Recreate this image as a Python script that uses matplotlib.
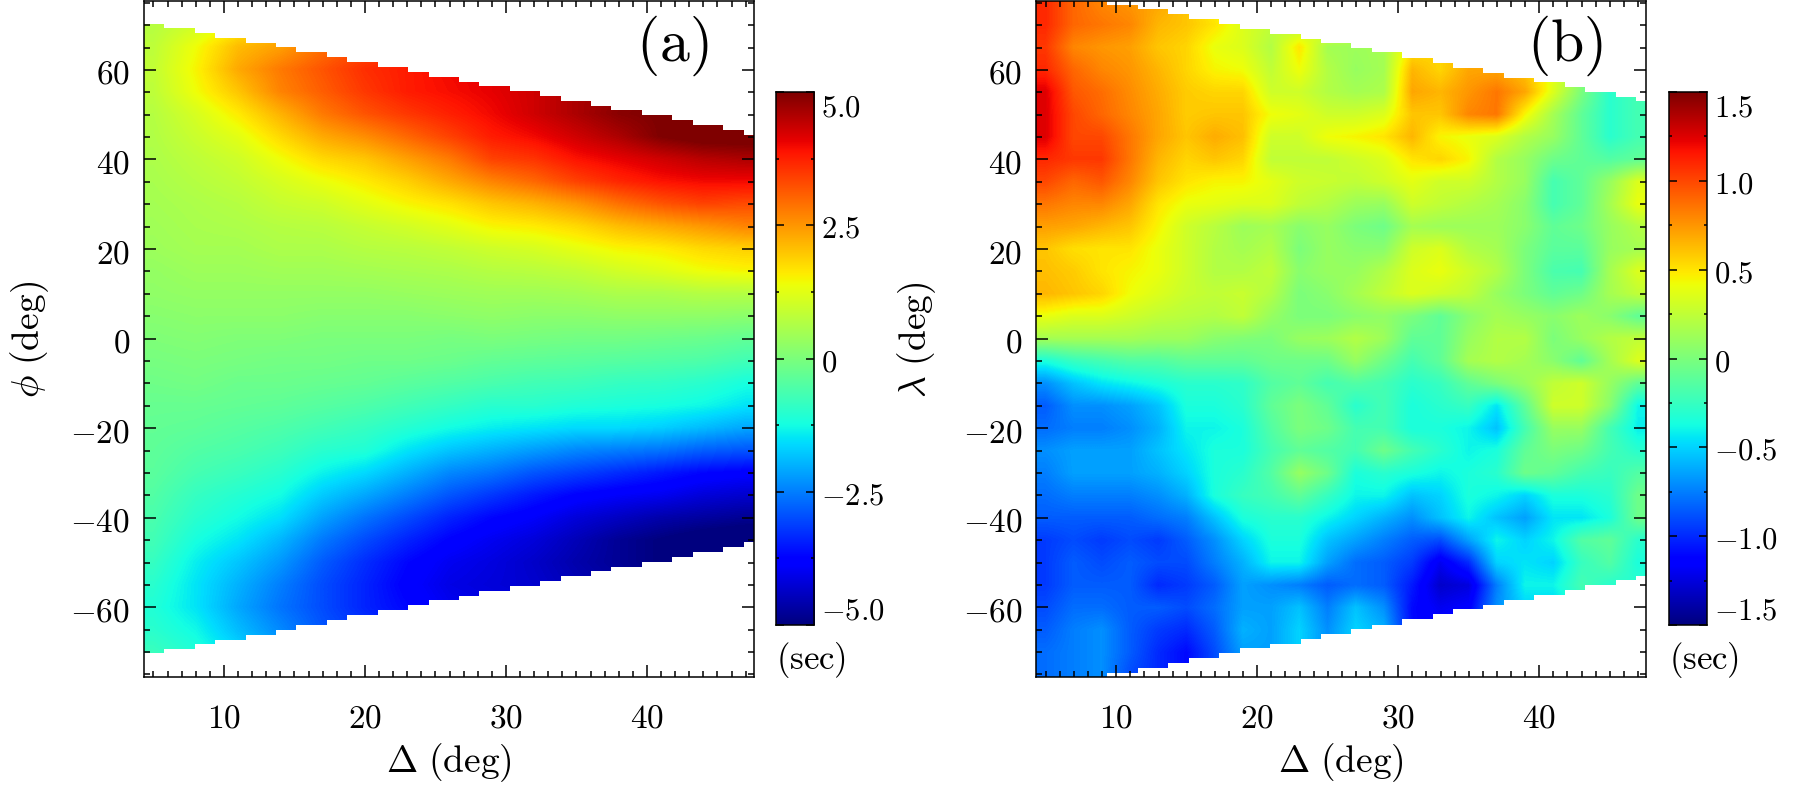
import numpy as np
import matplotlib
matplotlib.use('Agg')
import matplotlib.pyplot as plt
from matplotlib.path import Path
from matplotlib.patches import PathPatch

plt.rcParams['mathtext.fontset'] = 'cm'
W, H = 1800, 803

# panel (a): values per Delta column, latitude rows 70..-70 in steps of 5
a_lats = [70,65,60,55,50,45,40,35,30,25,20,15,10,5,0,-5,-10,-15,-20,-25,-30,-35,-40,-45,-50,-55,-60,-65,-70]
a_deltas = [5,8,11,14,17,20,23,26,29,32,35,38,41,44,47]
a05 = [.7,.8,.85,.8,.7,.65,.6,.55,.5,.45,.4,.3,.25,.15,.05,-.05,-.15,-.25,-.3,-.35,-.4,-.5,-.6,-.7,-.85,-1,-1.1,-1,-.8]
a08 = [1,1.4,1.5,1.4,1.1,.95,.8,.7,.6,.55,.5,.4,.3,.2,.1,0,-.1,-.25,-.35,-.5,-.65,-.85,-1,-1.2,-1.4,-1.5,-1.5,-1.3,-1.1]
a11 = [1.5,2.1,2.3,2,1.6,1.25,1,.85,.7,.6,.5,.4,.3,.2,.05,-.05,-.2,-.3,-.45,-.6,-.8,-1.05,-1.25,-1.5,-1.8,-2,-2.1,-1.9,-1.6]
a14 = [1.9,2.4,2.8,2.7,2.2,1.8,1.4,1.1,.9,.7,.6,.45,.3,.2,.05,-.1,-.2,-.35,-.55,-.75,-1,-1.25,-1.55,-1.95,-2.25,-2.5,-2.6,-2.4,-2.1]
a17 = [2.4,2.9,3.2,3.1,2.8,2.3,1.8,1.35,1,.75,.6,.45,.3,.15,0,-.1,-.25,-.45,-.7,-1,-1.35,-1.75,-2.15,-2.55,-2.85,-3,-3,-2.9,-2.6]
a20 = [3,3.3,3.6,3.5,3.2,2.6,2,1.6,1.25,.9,.7,.5,.3,.15,0,-.15,-.3,-.55,-.85,-1.1,-1.6,-2.1,-2.6,-3,-3.3,-3.4,-3.4,-3.2,-3]
a23 = [3.4,3.6,3.8,3.8,3.5,3,2.4,1.9,1.5,1.05,.75,.55,.35,.15,0,-.15,-.4,-.7,-1.05,-1.5,-2,-2.5,-3,-3.4,-3.7,-3.8,-3.7,-3.5,-3.3]
a26 = [3.6,3.8,4,3.95,3.75,3.4,2.8,2.3,1.7,1.25,.85,.6,.4,.2,-.05,-.2,-.5,-.85,-1.25,-1.8,-2.4,-2.9,-3.4,-3.75,-4,-4.1,-4,-3.8,-3.6]
a29 = [3.8,4,4.1,4.1,4,3.8,3.4,2.7,2,1.5,1,.7,.45,.25,0,-.3,-.6,-1,-1.4,-2,-2.6,-3.2,-3.7,-4,-4.15,-4.2,-4.1,-3.9,-3.7]
a32 = [4,4.2,4.3,4.3,4.3,4,3.55,3,2.2,1.6,1.1,.75,.45,.2,-.05,-.35,-.7,-1,-1.5,-2.2,-2.9,-3.5,-3.9,-4.2,-4.35,-4.3,-4.2,-4,-3.8]
a35 = [4.2,4.4,4.5,4.6,4.6,4.3,3.9,3.4,2.5,1.8,1.3,.85,.5,.2,-.1,-.4,-.75,-1.1,-1.6,-2.4,-3.1,-3.75,-4.2,-4.5,-4.6,-4.5,-4.4,-4.2,-4]
a38 = [4.4,4.6,4.7,4.8,4.9,4.6,4.1,3.7,2.9,2.1,1.5,1.05,.6,.25,-.1,-.45,-.85,-1.15,-1.6,-2.5,-3.3,-3.9,-4.4,-4.8,-4.8,-4.7,-4.6,-4.4,-4.2]
a41 = [4.6,4.8,4.9,5,5,5,4.3,3.9,3.2,2.3,1.6,1.2,.6,.25,-.15,-.5,-.9,-1.2,-1.7,-2.6,-3.5,-4,-4.6,-5,-5,-4.9,-4.8,-4.6,-4.4]
a44 = [4.8,5,5,5.2,5.2,5.2,4.5,4,3.4,2.5,1.8,1.4,.7,.25,-.2,-.55,-1,-1.3,-1.9,-2.8,-3.7,-4.2,-4.7,-5.2,-5.2,-5,-5,-4.8,-4.6]
a47 = [5,5,5.2,5.2,5.2,5.2,4.6,4,3.3,2.7,1.9,1.5,.7,.2,-.3,-.7,-1.2,-1.5,-2.1,-2.9,-3.8,-4.3,-4.8,-5.3,-5.3,-5.2,-5,-5,-4.8]

# panel (b): values per latitude row, Delta columns 5,7,...,47
b_deltas = [5,7,9,11,13,15,17,19,21,23,25,27,29,31,33,35,37,39,41,43,45,47]
b_lats = [75,70,65,60,55,50,45,40,35,30,25,20,15,10,5,0,-5,-10,-15,-20,-25,-30,-35,-40,-45,-50,-55,-60,-65,-70,-75]
bp75 = [1.1,.9,.8,.75,.7,.6,.45,.3,.2,.3,.4,.3,.2,.4,.6,.6,.6,.6,.4,.1,-.1,-.2]
bp70 = [1.1,.9,.85,.8,.65,.6,.5,.35,.25,.2,.45,.3,.2,.2,.55,.6,.7,.55,.4,.1,-.1,-.2]
bp65 = [1.05,.8,.75,.72,.6,.55,.4,.35,.2,.5,.15,.12,.15,.5,.55,.6,.7,.55,.4,.1,-.1,-.2]
bp60 = [1.1,.9,.8,.75,.65,.55,.45,.42,.25,.42,.2,.1,.15,.65,.55,.7,.7,.6,.4,.1,-.1,-.2]
bp55 = [1.25,.95,.88,.78,.68,.58,.55,.55,.3,.3,.2,.15,.18,.7,.65,.75,.85,.7,.35,0,-.3,-.2]
bp50 = [1.25,1.0,.9,.8,.7,.58,.6,.6,.42,.38,.3,.3,.35,.6,.6,.8,.85,.45,.15,-.1,-.3,-.2]
bp45 = [1.25,1.0,1.0,.85,.7,.6,.68,.62,.3,.3,.42,.45,.5,.65,.45,.4,.35,.2,.1,-.1,-.3,-.2]
bp40 = [1.1,1.05,1.05,.85,.65,.55,.6,.55,.25,.25,.25,.3,.35,.5,.55,.45,.2,.1,-.05,-.1,-.15,-.1]
bp35 = [1.0,.9,.95,.8,.6,.5,.45,.45,.38,.3,.28,.25,.3,.38,.3,.3,.2,.1,-.2,-.1,.1,.35]
bp30 = [.85,.8,.8,.7,.5,.4,.38,.35,.35,.25,.2,.12,.1,.3,.25,.2,.15,.05,-.2,-.1,.15,.4]
bp25 = [.72,.7,.65,.6,.45,.3,.22,.12,.15,.05,.1,0,-.05,.15,.12,.12,.12,.05,-.1,-.05,.1,.2]
bp20 = [.6,.52,.5,.5,.4,.3,.2,.15,.2,0,.1,.05,.05,.3,.35,.2,.15,0,-.12,-.12,.1,.15]
bp15 = [.62,.58,.5,.45,.4,.3,.2,.2,.25,.05,.1,.1,.2,.35,.4,.3,.2,0,-.18,-.2,.15,.35]
bp10 = [.65,.6,.55,.42,.35,.28,.25,.28,.2,0,.05,.15,.25,.35,.3,.25,.1,0,-.1,-.05,.15,.25]
bp05 = [.4,.35,.35,.3,.25,.22,.2,.25,.1,0,0,.05,.08,0,-.1,.05,.15,.1,.05,.12,.05,-.1]
b000 = [.15,.15,.15,.15,.12,.12,.05,.02,0,.1,.12,.2,.12,-.1,-.1,.1,.2,.2,0,.1,.2,.25]
bm05 = [-.35,-.25,-.2,-.15,-.15,-.1,-.1,-.1,-.05,-.05,-.05,.1,-.05,-.2,-.1,.15,.2,.15,.05,-.1,.15,.35]
bm10 = [-.7,-.55,-.45,-.4,-.35,-.3,-.3,-.28,-.15,-.1,-.2,-.15,-.2,-.3,-.25,-.1,0,.1,.25,.3,.1,-.1]
bm15 = [-.85,-.7,-.7,-.65,-.55,-.35,-.35,-.3,-.1,0,-.1,-.3,-.2,-.35,-.3,-.25,-.45,-.1,.3,.3,.05,-.4]
bm20 = [-.8,-.75,-.75,-.7,-.6,-.4,-.4,-.35,-.15,0,-.05,-.2,-.2,-.35,-.35,-.4,-.55,-.2,.1,.1,-.2,-.42]
bm25 = [-.7,-.65,-.65,-.65,-.55,-.45,-.35,-.35,-.2,-.1,-.15,-.2,-.05,-.2,-.3,-.4,-.35,-.1,0,-.05,-.2,-.3]
bm30 = [-.75,-.65,-.65,-.65,-.6,-.5,-.35,-.3,-.15,.1,-.05,-.35,-.3,-.35,-.4,-.35,-.3,-.05,-.1,-.2,-.25,-.15]
bm35 = [-.8,-.75,-.75,-.75,-.7,-.6,-.35,-.25,-.2,-.1,-.25,-.4,-.4,-.55,-.5,-.35,-.4,-.5,-.35,-.35,-.3,-.05]
bm40 = [-.85,-.85,-.85,-.85,-.8,-.75,-.55,-.35,-.3,-.3,-.4,-.5,-.6,-.7,-.55,-.4,-.55,-.65,-.45,-.45,-.35,-.05]
bm45 = [-.95,-.9,-.95,-.9,-.95,-.85,-.7,-.5,-.35,-.35,-.55,-.65,-.75,-.85,-.9,-.65,-.4,-.5,-.4,-.15,-.1,-.3]
bm50 = [-.95,-.85,-.9,-.85,-.9,-.9,-.75,-.6,-.4,-.4,-.65,-.8,-.85,-.95,-1.2,-1.0,-.5,-.45,-.5,-.25,-.15,-.35]
bm55 = [-.95,-.85,-.85,-.85,-1.0,-.95,-.85,-.65,-.7,-.75,-.85,-.8,-.85,-1.05,-1.3,-1.25,-.75,-.4,-.4,-.2,-.3,-.3]
bm60 = [-.9,-.8,-.8,-.85,-.85,-.9,-.8,-.65,-.65,-.55,-.75,-.55,-.7,-1.1,-1.2,-1.15,-.7,-.5,-.5,-.3,-.3,-.3]
bm65 = [-.85,-.75,-.7,-.85,-.95,-1.0,-.85,-.6,-.65,-.5,-.7,-.5,-.6,-1.1,-1.15,-1.0,-.7,-.5,-.5,-.3,-.3,-.3]
bm70 = [-.8,-.75,-.7,-.85,-1.0,-1.1,-.9,-.65,-.65,-.5,-.7,-.5,-.6,-1.1,-1.15,-1.0,-.7,-.5,-.5,-.3,-.3,-.3]
bm75 = [-.8,-.75,-.7,-.9,-1.0,-1.1,-.9,-.65,-.65,-.5,-.7,-.5,-.6,-1.1,-1.15,-1.0,-.7,-.5,-.5,-.3,-.3,-.3]

# coverage limit (deg) of each Delta run of cells, with number of cells in the run
a_limit = [70.3,69.3,68.3,67.2,66.1,65.1,64.0,62.8,61.7,60.6,59.6,58.4,57.4,56.3,55.2,54.2,53.1,52.0,51.0,49.9,48.8,47.7,46.6,45.5]
a_runs  = [2,3,2,3,3,2,3,2,3,3,2,3,2,3,3,2,3,2,3,3,2,3,2,1]
b_limit = [76,74.6,73.6,72.5,71.4,70.3,69.2,68.1,67.0,66.0,64.9,63.9,62.6,61.6,60.4,59.4,58.3,57.2,56.1,55.1,54.0,53.0]
b_runs  = [7,3,3,2,3,2,3,3,2,3,2,3,3,2,3,2,3,3,2,3,2,1]

XLIM = (4.33, 47.57)
YLIM = (-75.5, 75.5)
a_grid = np.column_stack([a05,a08,a11,a14,a17,a20,a23,a26,a29,a32,a35,a38,a41,a44,a47])
b_grid = np.array([bp75,bp70,bp65,bp60,bp55,bp50,bp45,bp40,bp35,bp30,bp25,bp20,bp15,bp10,bp05,b000,
                   bm05,bm10,bm15,bm20,bm25,bm30,bm35,bm40,bm45,bm50,bm55,bm60,bm65,bm70,bm75])

def axes_px(x0, y0, x1, y1):
    return [x0/W, 1-y1/H, (x1-x0)/W, (y1-y0)/H]

def stair_path(limit, runs):
    edges = np.linspace(XLIM[0], XLIM[1], sum(runs)+1)
    idx = np.concatenate([[0], np.cumsum(runs)])
    top = []
    for i, lim in enumerate(limit):
        top += [(edges[idx[i]], lim), (edges[idx[i+1]], lim)]
    bottom = [(x, -y) for x, y in top[::-1]]
    verts = top + bottom + [top[0]]
    return Path(verts, closed=True)

def panel(box, grid, deltas, lats, vmax, limit, runs, ylabel, ylabel_x, tag, tag_x):
    ax = fig.add_axes(axes_px(*box))
    dx = deltas[1]-deltas[0]
    dy = abs(lats[1]-lats[0])
    im = ax.imshow(grid, cmap='jet', vmin=-vmax, vmax=vmax, aspect='auto', interpolation='bilinear',
                   extent=[deltas[0]-dx/2, deltas[-1]+dx/2, lats[-1]-dy/2, lats[0]+dy/2], origin='upper')
    im.set_clip_path(PathPatch(stair_path(limit, runs), transform=ax.transData))
    ax.set_xlim(*XLIM); ax.set_ylim(*YLIM)
    ax.set_xticks([10,20,30,40]); ax.set_xticklabels([f'${v}$' for v in [10,20,30,40]])
    ax.set_yticks([-60,-40,-20,0,20,40,60])
    ax.set_yticklabels([f'${v}$' for v in [-60,-40,-20,0,20,40,60]])
    ax.set_xticks(np.arange(5,48,1), minor=True)
    ax.set_yticks(np.arange(-75,76,5), minor=True)
    ax.tick_params(which='both', direction='in', top=True, right=True, width=1.1, color='black')
    ax.tick_params(which='major', length=8.6, labelsize=24)
    ax.tick_params(which='minor', length=4.3)
    ax.tick_params(axis='x', which='major', pad=17)
    ax.tick_params(axis='y', which='major', pad=10)
    for s in ax.spines.values():
        s.set_linewidth(1.1); s.set_zorder(5)
    ax.set_xlabel(r'$\Delta\ \mathrm{(deg)}$', fontsize=27, labelpad=5)
    fig.text(ylabel_x/W, 1-339.5/H, ylabel, rotation=90, fontsize=27, ha='center', va='center')
    fig.text(tag_x/W, 1-46/H, tag, fontsize=43, ha='center', va='center')
    return ax

def colorbar(x0, x1, vmax, major, minor, labels, sec_x):
    cax = fig.add_axes(axes_px(x0, 93, x1, 626))
    grad = np.linspace(-vmax, vmax, 256)[:, None]
    cax.imshow(grad, cmap='jet', vmin=-vmax, vmax=vmax, aspect='auto', origin='lower',
               extent=[0, 1, -vmax, vmax])
    cax.set_xticks([])
    cax.yaxis.tick_right()
    cax.set_yticks(major); cax.set_yticklabels(labels)
    cax.set_yticks(minor, minor=True)
    cax.tick_params(which='both', direction='in', left=True, right=True, width=1.1)
    cax.tick_params(which='major', length=5.5, labelsize=22, pad=5)
    cax.tick_params(which='minor', length=2.5)
    tl = cax.get_yticklabels()
    tl[0].set_verticalalignment('bottom'); tl[-1].set_verticalalignment('top')
    for s in cax.spines.values():
        s.set_linewidth(1.1)
    fig.text(sec_x/W, 1-660/H, r'$\mathrm{(sec)}$', fontsize=25, ha='left', va='center')

fig = plt.figure(figsize=(W/100, H/100), dpi=100)
panel((144, 1.5, 753.7, 677.7), a_grid, a_deltas, a_lats, 5.0, a_limit, a_runs,
      r'$\phi\ \mathrm{(deg)}$', 30, r'$\mathrm{(a)}$', 672)
panel((1036.3, 1.5, 1646, 677.7), b_grid, b_deltas, b_lats, 1.5, b_limit, b_runs,
      r'$\lambda\ \mathrm{(deg)}$', 917, r'$\mathrm{(b)}$', 1565)
colorbar(776.3, 814.3, 5.0, [-5,-2.5,0,2.5,5], [-3.75,-1.25,1.25,3.75],
         ['$-5.0$','$-2.5$','$0$','$2.5$','$5.0$'], 776)
colorbar(1669, 1707, 1.5, [-1.5,-1,-.5,0,.5,1,1.5], [-1.25,-.75,-.25,.25,.75,1.25],
         ['$-1.5$','$-1.0$','$-0.5$','$0$','$0.5$','$1.0$','$1.5$'], 1669)
fig.savefig('out.png', dpi=100)
